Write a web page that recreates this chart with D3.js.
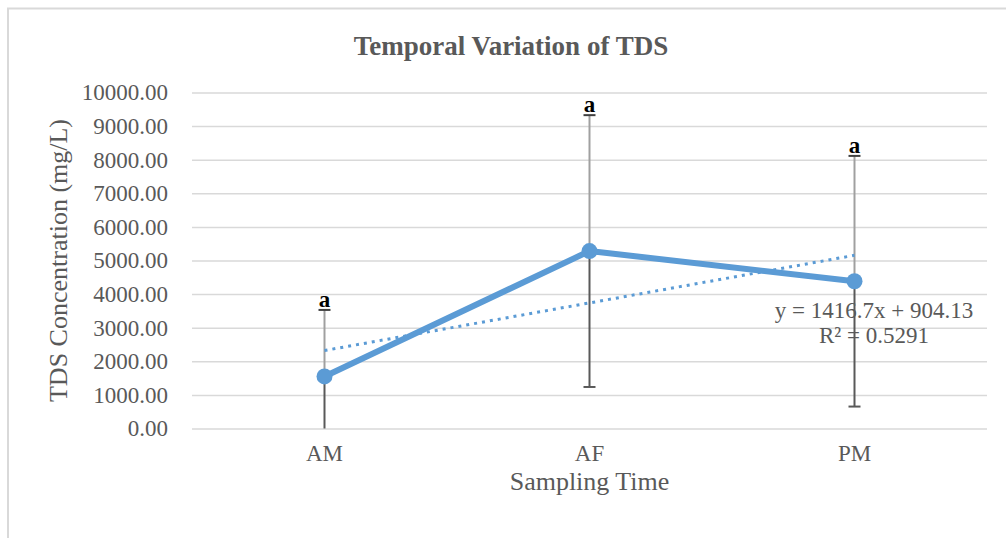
<!DOCTYPE html>
<html lang='en'>
<head>
	<meta charset='utf-8'>
	<script type='text/javascript' src='https://d3js.org/d3.v7.min.js'></script>
	<style type='text/css'>
		body{
			margin:0;
			background:#fff;
		}
		text{
			font-family:'Liberation Serif','Times New Roman',serif;
			fill:#595959;
		}
		.chart-title{
			font-weight:bold;
			font-size:27px;
		}
		.axis-title{
			font-size:26px;
		}
		.tick text{
			font-size:23px;
			fill:#595959;
		}
		.sig{
			font-weight:bold;
			font-size:23px;
			fill:#000;
		}
		.eq{
			font-size:23px;
		}
	</style>
</head>
<body>
	<div id='chart'></div>

	<script type='text/javascript'>
		//data
		var categories = ['AM', 'AF', 'PM'];
		var means = [1549, 5281, 4383];
		var errors = [1980, 4045, 3730];
		var sigLetters = ['a', 'a', 'a'];
		var yTicks = [0, 1000, 2000, 3000, 4000, 5000, 6000, 7000, 8000, 9000, 10000];

		//linear trendline shown on the chart
		var trendSlope = 1416.7,
			trendIntercept = 904.13;
		var trendLabels = ['y = 1416.7x + 904.13', 'R² = 0.5291'];

		var width = 1006,
			height = 538;

		var plot = {left:192, right:987, top:92.5, bottom:428.5};

		var svg = d3.select('#chart')
			.append('svg')
			.attr('width', width)
			.attr('height', height);

		//chart area border
		svg.append('rect')
			.attr('x', 8)
			.attr('y', 8.5)
			.attr('width', 1020)
			.attr('height', 560)
			.style('fill', 'none')
			.style('stroke', '#d9d9d9')
			.style('stroke-width', 2);

		var x = d3.scaleBand()
			.domain(categories)
			.range([plot.left, plot.right])
			.padding(0);

		var y = d3.scaleLinear()
			.domain([0, 10000])
			.range([plot.bottom, plot.top]);

		function cx(c){ return x(c) + x.bandwidth() / 2; }

		//y axis + gridlines
		var yAxis = svg.append('g')
			.attr('transform', 'translate(' + plot.left + ',0)')
			.call(d3.axisLeft(y)
				.tickValues(yTicks)
				.tickFormat(d3.format('.2f'))
				.tickSize(-(plot.right - plot.left))
				.tickPadding(24));
		yAxis.select('.domain').remove();
		yAxis.selectAll('.tick line')
			.style('stroke', '#d9d9d9')
			.style('stroke-width', 1.5);

		//x axis
		var xAxis = svg.append('g')
			.attr('transform', 'translate(0,' + plot.bottom + ')')
			.call(d3.axisBottom(x)
				.tickSize(0)
				.tickPadding(16));
		xAxis.select('.domain').remove();

		//titles
		svg.append('text')
			.attr('class', 'chart-title')
			.attr('x', 511)
			.attr('y', 55)
			.attr('text-anchor', 'middle')
			.text('Temporal Variation of TDS');

		svg.append('text')
			.attr('class', 'axis-title')
			.attr('x', (plot.left + plot.right) / 2)
			.attr('y', 490)
			.attr('text-anchor', 'middle')
			.text('Sampling Time');

		svg.append('text')
			.attr('class', 'axis-title')
			.attr('transform', 'translate(67,' + (plot.top + plot.bottom) / 2 + ') rotate(-90)')
			.attr('text-anchor', 'middle')
			.text('TDS Concentration (mg/L)');

		//error bars
		var bars = svg.append('g').selectAll('g')
			.data(categories)
			.enter()
			.append('g');

		bars.append('line')
			.attr('x1', function(d){ return cx(d); })
			.attr('x2', function(d){ return cx(d); })
			.attr('y1', function(d, i){ return y(means[i]); })
			.attr('y2', function(d, i){ return y(means[i] + errors[i]); })
			.style('stroke', '#a0a0a0')
			.style('stroke-width', 2);

		bars.append('line')
			.attr('x1', function(d){ return cx(d); })
			.attr('x2', function(d){ return cx(d); })
			.attr('y1', function(d, i){ return y(means[i]); })
			.attr('y2', function(d, i){ return y(Math.max(0, means[i] - errors[i])); })
			.style('stroke', '#595959')
			.style('stroke-width', 2);

		//caps
		bars.append('line')
			.attr('x1', function(d){ return cx(d) - 6; })
			.attr('x2', function(d){ return cx(d) + 6; })
			.attr('y1', function(d, i){ return y(means[i] + errors[i]); })
			.attr('y2', function(d, i){ return y(means[i] + errors[i]); })
			.style('stroke', '#404040')
			.style('stroke-width', 2);

		bars.filter(function(d, i){ return means[i] - errors[i] > 0; })
			.append('line')
			.attr('x1', function(d){ return cx(d) - 6; })
			.attr('x2', function(d){ return cx(d) + 6; })
			.attr('y1', function(d){ var i = categories.indexOf(d); return y(means[i] - errors[i]); })
			.attr('y2', function(d){ var i = categories.indexOf(d); return y(means[i] - errors[i]); })
			.style('stroke', '#595959')
			.style('stroke-width', 2);

		//significance letters
		bars.append('text')
			.attr('class', 'sig')
			.attr('x', function(d){ return cx(d); })
			.attr('y', function(d, i){ return y(means[i] + errors[i]) - 3; })
			.attr('text-anchor', 'middle')
			.text(function(d, i){ return sigLetters[i]; });

		//trendline (x = 1..n)
		var xi = d3.scaleLinear()
			.domain([1, categories.length])
			.range([cx(categories[0]), cx(categories[categories.length - 1])]);

		svg.append('line')
			.attr('x1', xi(1))
			.attr('x2', xi(categories.length))
			.attr('y1', y(trendSlope * 1 + trendIntercept))
			.attr('y2', y(trendSlope * categories.length + trendIntercept))
			.style('stroke', '#5b9bd5')
			.style('stroke-width', 3)
			.style('stroke-dasharray', '3,5');

		//series line and markers
		var line = d3.line()
			.x(function(d){ return cx(d); })
			.y(function(d, i){ return y(means[i]); });

		svg.append('path')
			.datum(categories)
			.attr('d', line)
			.style('fill', 'none')
			.style('stroke', '#5b9bd5')
			.style('stroke-width', 6)
			.style('stroke-linejoin', 'round');

		svg.append('g').selectAll('circle')
			.data(categories)
			.enter()
			.append('circle')
			.attr('cx', function(d){ return cx(d); })
			.attr('cy', function(d, i){ return y(means[i]); })
			.attr('r', 8)
			.style('fill', '#5b9bd5');

		//trendline label
		svg.append('text')
			.attr('class', 'eq')
			.attr('x', 874)
			.attr('y', 318)
			.attr('text-anchor', 'middle')
			.selectAll('tspan')
			.data(trendLabels)
			.enter()
			.append('tspan')
			.attr('x', 874)
			.attr('dy', function(d, i){ return i === 0 ? 0 : 25; })
			.text(function(d){ return d; });
	</script>
</body>
</html>
